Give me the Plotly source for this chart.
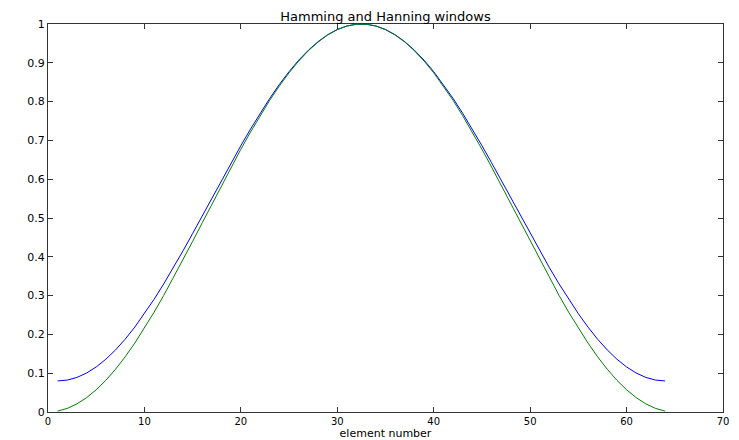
import plotly.graph_objects as go

element = list(range(1, 65))

hamming = [0.0800, 0.0823, 0.0891, 0.1004, 0.1161, 0.1360, 0.1599, 0.1876,
           0.2188, 0.2532, 0.2904, 0.3301, 0.3719, 0.4154, 0.4601, 0.5056,
           0.5515, 0.5972, 0.6424, 0.6865, 0.7292, 0.7700, 0.8085, 0.8444,
           0.8772, 0.9067, 0.9325, 0.9544, 0.9723, 0.9858, 0.9949, 0.9994,
           0.9994, 0.9949, 0.9858, 0.9723, 0.9544, 0.9325, 0.9067, 0.8772,
           0.8444, 0.8085, 0.7700, 0.7292, 0.6865, 0.6424, 0.5972, 0.5515,
           0.5056, 0.4601, 0.4154, 0.3719, 0.3301, 0.2904, 0.2532, 0.2188,
           0.1876, 0.1599, 0.1360, 0.1161, 0.1004, 0.0891, 0.0823, 0.0800]

hanning = [0.0023, 0.0093, 0.0209, 0.0369, 0.0573, 0.0817, 0.1102, 0.1421,
           0.1776, 0.2160, 0.2570, 0.3003, 0.3455, 0.3921, 0.4397, 0.4879,
           0.5362, 0.5842, 0.6314, 0.6773, 0.7216, 0.7638, 0.8036, 0.8405,
           0.8743, 0.9045, 0.9310, 0.9535, 0.9717, 0.9855, 0.9948, 0.9994,
           0.9994, 0.9948, 0.9855, 0.9717, 0.9535, 0.9310, 0.9045, 0.8743,
           0.8405, 0.8036, 0.7638, 0.7216, 0.6773, 0.6314, 0.5842, 0.5362,
           0.4879, 0.4397, 0.3921, 0.3455, 0.3003, 0.2570, 0.2160, 0.1776,
           0.1421, 0.1102, 0.0817, 0.0573, 0.0369, 0.0209, 0.0093, 0.0023]

x_ticks = [0, 10, 20, 30, 40, 50, 60, 70]
y_ticks = [0, 0.1, 0.2, 0.3, 0.4, 0.5, 0.6, 0.7, 0.8, 0.9, 1]
y_labels = ["0", "0.1", "0.2", "0.3", "0.4", "0.5", "0.6", "0.7", "0.8", "0.9", "1"]

fam = "DejaVu Sans, Arial, sans-serif"
font = dict(family=fam, size=11, color="black")
xfont = dict(family=fam, size=10, color="black")

fig = go.Figure()
fig.add_trace(go.Scatter(x=element, y=hamming, mode="lines",
                         line=dict(color="#0000ff", width=1), name="Hamming"))
fig.add_trace(go.Scatter(x=element, y=hanning, mode="lines",
                         line=dict(color="#008000", width=1), name="Hanning"))

axis_common = dict(showline=True, linecolor="#333333", linewidth=1, mirror="ticks",
                   ticks="inside", ticklen=5, tickcolor="#333333", showgrid=False,
                   zeroline=False, automargin=False)

fig.update_layout(
    width=739, height=440,
    margin=dict(l=48, r=16, t=24, b=28),
    paper_bgcolor="white", plot_bgcolor="white",
    showlegend=False,
    font=font,
    title=dict(text="Hamming and Hanning windows", x=0.5, xref="paper",
               y=1, yref="paper", yanchor="bottom", pad=dict(b=3),
               font=dict(family=fam, size=13, color="black")),
    xaxis=dict(range=[0, 70], tickvals=x_ticks, ticktext=[str(v) for v in x_ticks],
               title=dict(text="element number", standoff=2,
                          font=dict(family=fam, size=11, color="black")),
               ticklabelstandoff=0, tickfont=xfont,
               **axis_common),
    yaxis=dict(range=[0, 1], tickvals=y_ticks, ticktext=y_labels, tickfont=font,
               **axis_common),
)

fig.write_html("out.html")
